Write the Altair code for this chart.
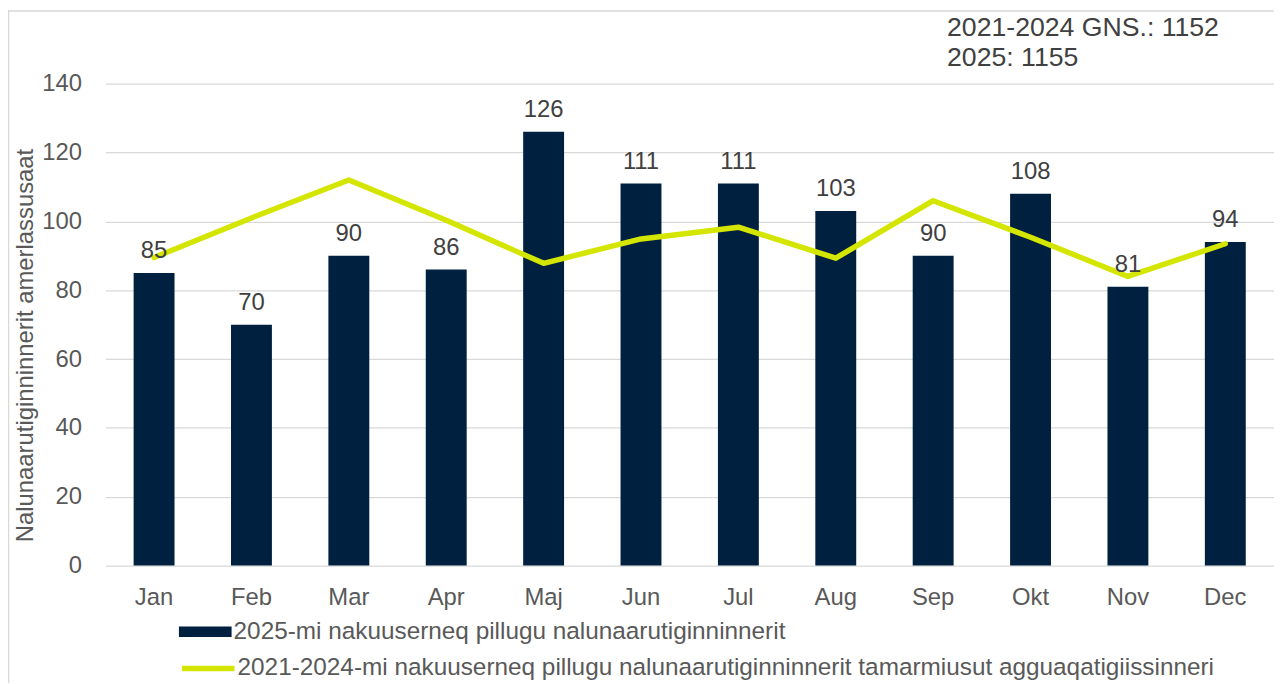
import altair as alt
import pandas as pd

months = ["Jan", "Feb", "Mar", "Apr", "Maj", "Jun", "Jul", "Aug", "Sep", "Okt", "Nov", "Dec"]
reports_2025 = [85, 70, 90, 86, 126, 111, 111, 103, 90, 108, 81, 94]
avg_2021_2024 = [89.5, 101.0, 112.0, 100.3, 87.8, 94.9, 98.3, 89.3, 106.0, 95.4, 84.0, 93.5]
y_ticks = [0, 20, 40, 60, 80, 100, 120, 140]
series_bar = "2025-mi nakuuserneq pillugu nalunaarutiginninnerit"
series_line = "2021-2024-mi nakuuserneq pillugu nalunaarutiginninnerit tamarmiusut agguaqatigiissinneri"
y_title = "Nalunaarutiginninnerit amerlassusaat"
note_lines = ["2021-2024 GNS.: 1152", "2025: 1155"]

df = pd.DataFrame({
    "month": months,
    "v2025": reports_2025,
    "avg": avg_2021_2024,
    "s_bar": series_bar,
    "s_line": series_line,
})

FONT = "Liberation Sans"
W, H = 1176, 485
BAR = "#00203F"
LIME = "#D4E600"
GRID = "#d9d9d9"

x_enc = alt.X(
    "month:N", sort=months,
    scale=alt.Scale(paddingInner=0.58, paddingOuter=0.29),
    axis=alt.Axis(title=None, labelAngle=0, labelFontSize=24, labelColor="#595959",
                  labelFont=FONT, labelPadding=20, ticks=False, domain=False, grid=False),
)
y_axis = alt.Axis(values=y_ticks, title=y_title, titleFontSize=24, titleColor="#595959",
                  titleFont=FONT, titleFontWeight="normal", titlePadding=4, titleY=263,
                  labelFontSize=24, labelColor="#595959", labelFont=FONT, labelPadding=24,
                  ticks=False, domain=False, gridColor=GRID, gridWidth=1.3)
y_scale = alt.Scale(domain=[0, 140], nice=False)

base = alt.Chart(df)

bars = base.mark_bar().encode(
    x=x_enc,
    y=alt.Y("v2025:Q", scale=y_scale, axis=y_axis),
    fill=alt.Fill("s_bar:N", scale=alt.Scale(domain=[series_bar], range=[BAR]),
                  legend=alt.Legend(title=None, orient="none", legendX=74, legendY=525,
                                    symbolType="M-1,-0.2H1V0.2H-1Z", symbolSize=2809,
                                    symbolStrokeWidth=0, labelFontSize=24.5, labelFont=FONT,
                                    labelColor="#595959", labelLimit=1200, labelOffset=2,
                                    padding=0)),
)

line = base.mark_line(strokeWidth=5.5, strokeCap="round", strokeJoin="round").encode(
    x=x_enc,
    y=alt.Y("avg:Q", scale=y_scale, axis=y_axis),
    stroke=alt.Stroke("s_line:N", scale=alt.Scale(domain=[series_line], range=[LIME]),
                      legend=alt.Legend(title=None, orient="none", legendX=74, legendY=559,
                                        symbolType="stroke", symbolSize=2809,
                                        symbolStrokeWidth=5.5, labelFontSize=24.5, labelFont=FONT,
                                        labelColor="#595959", labelLimit=1200, labelOffset=0,
                                        padding=0)),
)

labels = base.mark_text(baseline="alphabetic", dy=-15, fontSize=24, font=FONT,
                        color="#404040").encode(
    x=x_enc,
    y=alt.Y("v2025:Q", scale=y_scale, axis=y_axis),
    text=alt.Text("v2025:Q"),
)

note = alt.Chart(pd.DataFrame({"n": [0]})).mark_text(
    text=note_lines, align="left", baseline="alphabetic", fontSize=26.8, font=FONT,
    color="#404040", lineHeight=30,
).encode(x=alt.value(847), y=alt.value(-48))

frame_left = alt.Chart(pd.DataFrame({"n": [0]})).mark_rule(color=GRID, strokeWidth=1.5).encode(
    x=alt.value(-97.5), y=alt.value(-74), y2=alt.value(H + 200))
frame_top = alt.Chart(pd.DataFrame({"n": [0]})).mark_rule(color=GRID, strokeWidth=1.5).encode(
    x=alt.value(-98), x2=alt.value(W + 10), y=alt.value(-73.2))

chart = alt.layer(frame_left, frame_top, bars, line, labels, note).resolve_legend(
    fill="independent", stroke="independent"
).properties(
    width=W, height=H,
    autosize=alt.AutoSizeParams(type="none"),
    padding={"left": 98, "top": 74, "right": 0, "bottom": 116},
    background="white",
).configure_view(stroke=None)

chart.save("out.html", embed_options={"renderer": "svg", "actions": False})
